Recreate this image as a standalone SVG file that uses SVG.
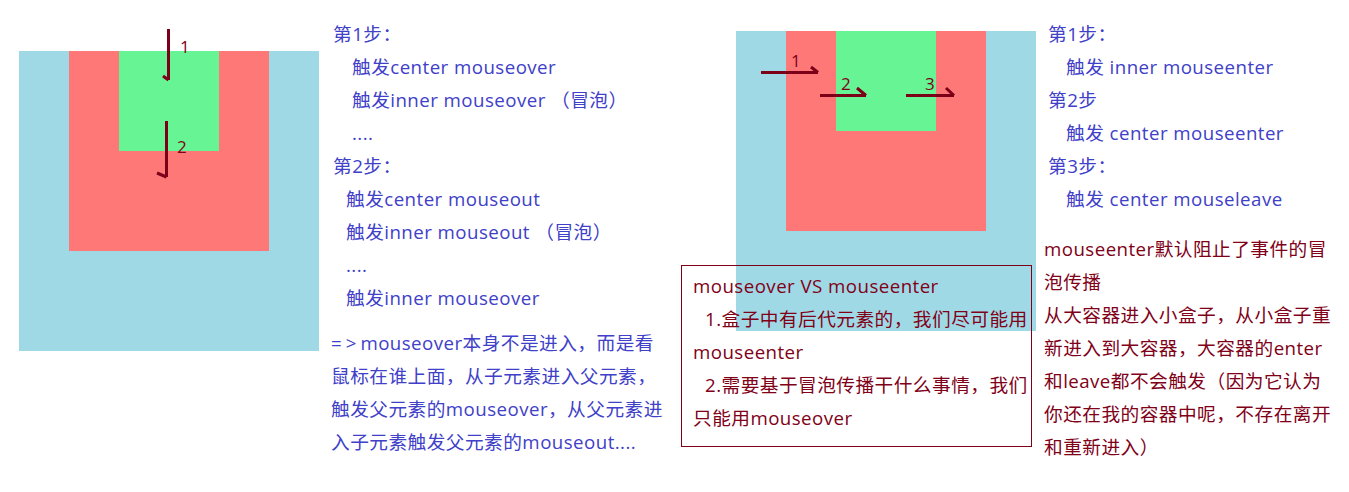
<svg xmlns="http://www.w3.org/2000/svg" width="1349" height="492" viewBox="0 0 1349 492">
<defs>
<style>
.outer{fill:#A0D9E6}
.center{fill:#FF7878}
.inner{fill:#66F495}
.arr{stroke:#7D0019;stroke-width:3;fill:none;stroke-linecap:butt}
.num{font-family:"Open Sans","Noto Sans CJK SC",sans-serif;font-size:17px;fill:#7D0019}
.t{font-family:"Open Sans","Noto Sans CJK SC",sans-serif;font-size:18.7px;letter-spacing:0.45px}
.b{fill:#4040C8}
.r{fill:#800018}
.box{fill:none;stroke:#800018;stroke-width:1}
</style>
</defs>
<rect width="1349" height="492" fill="#FFFFFF"/>
<g id="left-diagram">
<g id="outer-left"><rect class="outer" x="19" y="51" width="300" height="300"/></g>
<g id="center-left"><rect class="center" x="69" y="51" width="200" height="200"/></g>
<g id="inner-left"><rect class="inner" x="119" y="51" width="100" height="100"/></g>
</g>
<g id="right-diagram">
<g id="outer-right"><rect class="outer" x="736" y="31" width="300" height="300"/></g>
<g id="center-right"><rect class="center" x="786" y="31" width="200" height="200"/></g>
<g id="inner-right"><rect class="inner" x="836" y="31" width="100" height="100"/></g>
</g>
<g id="connectors">
<path class="arr" d="M168.5 29 V80 M163 76 L168.5 80"/>
<path class="arr" d="M166.5 121 V177 M157 173 L166.5 177"/>
<path class="arr" d="M761 72.5 H818 M811 67 L818 72.5"/>
<path class="arr" d="M820 95.5 H866 M857 88 L866 95.5"/>
<path class="arr" d="M906 95.5 H954 M946 88 L954 95.5"/>
</g>
<g id="labels">
<text class="num" x="180" y="53">1</text>
<text class="num" x="177" y="153">2</text>
<text class="num" x="791" y="67">1</text>
<text class="num" x="841" y="90">2</text>
<text class="num" x="925" y="90">3</text>
</g>
<g id="text-left" class="t b">
<text x="333" y="41">第1步：</text>
<text x="352" y="74">触发center mouseover</text>
<text x="352" y="107">触发inner mouseover （冒泡）</text>
<text x="352" y="140">....</text>
<text x="333" y="173">第2步：</text>
<text x="346" y="206">触发center mouseout</text>
<text x="346" y="239">触发inner mouseout （冒泡）</text>
<text x="346" y="272">....</text>
<text x="346" y="305">触发inner mouseover</text>
<text x="331" y="350"><tspan letter-spacing="4">=&gt;</tspan>mouseover本身不是进入，而是看</text>
<text x="331" y="383">鼠标在谁上面，从子元素进入父元素，</text>
<text x="331" y="416">触发父元素的mouseover，从父元素进</text>
<text x="331" y="449">入子元素触发父元素的mouseout....</text>
</g>
<g id="compare-box">
<rect class="box" x="681.5" y="265.5" width="350" height="181"/>
<g class="t r">
<text x="693" y="293">mouseover VS mouseenter</text>
<text x="705" y="326">1.盒子中有后代元素的，我们尽可能用</text>
<text x="693" y="359">mouseenter</text>
<text x="705" y="392">2.需要基于冒泡传播干什么事情，我们</text>
<text x="693" y="425">只能用mouseover</text>
</g>
</g>
<g id="text-right" class="t">
<text class="b" x="1048" y="41">第1步：</text>
<text class="b" x="1066" y="74">触发 inner mouseenter</text>
<text class="b" x="1048" y="107">第2步</text>
<text class="b" x="1066" y="140">触发 center mouseenter</text>
<text class="b" x="1048" y="173">第3步：</text>
<text class="b" x="1066" y="206">触发 center mouseleave</text>
<text class="r" x="1044" y="256">mouseenter默认阻止了事件的冒</text>
<text class="r" x="1044" y="289">泡传播</text>
<text class="r" x="1044" y="322">从大容器进入小盒子，从小盒子重</text>
<text class="r" x="1044" y="355">新进入到大容器，大容器的enter</text>
<text class="r" x="1044" y="388">和leave都不会触发（因为它认为</text>
<text class="r" x="1044" y="421">你还在我的容器中呢，不存在离开</text>
<text class="r" x="1044" y="454">和重新进入）</text>
</g>
</svg>
